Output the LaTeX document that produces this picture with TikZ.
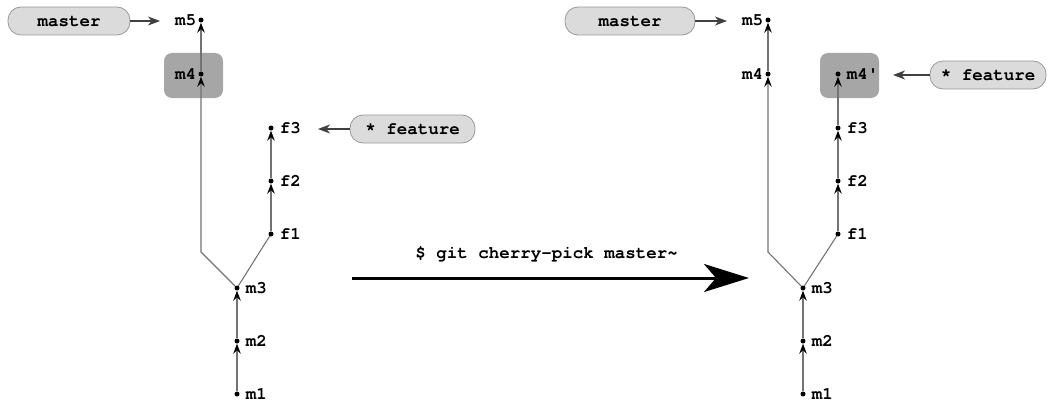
\documentclass[tikz,border=0pt]{standalone}
\usepackage{fontspec}
\setmonofont{TeX Gyre Cursor}
\usetikzlibrary{arrows.meta}
\begin{document}
\begin{tikzpicture}[x=1pt,y=-1pt,
 commit/.style={circle,fill=black,inner sep=0pt,minimum size=5pt},
 lbl/.style={font=\ttfamily\bfseries\fontsize{17.5}{17.5}\selectfont, inner sep=1pt, text=black},
 ll/.style={lbl, label distance=5pt},
 edge/.style={draw=black!55, line width=1.1pt, -{Stealth[length=10pt,width=7.5pt,inset=3.5pt,black]}},
 plainedge/.style={draw=black!55, line width=1.1pt},
 pill/.style={rounded corners=13pt, fill=black!14, draw=black!40, line width=0.8pt, minimum height=28pt, font=\ttfamily\bfseries\fontsize{17.5}{17.5}\selectfont, text=black},
 hl/.style={rounded corners=8pt, fill=black!35, draw=none},
 ptr/.style={draw=black!75, line width=1.1pt, -{Stealth[length=12pt,width=9pt,inset=3.5pt]}},
 bigarrow/.style={draw=black, line width=3pt, -{Stealth[length=45pt,width=28pt,inset=12pt]}}
]
\useasboundingbox (0,0) rectangle (1049,404);
% highlight boxes
\node[hl, minimum width=59pt, minimum height=45pt] (hlL) at (193.5,75.5) {};
\node[hl, minimum width=59pt, minimum height=45pt] (hlR) at (849.5,75.5) {};

% ---------- left graph
\node[commit, label={[ll]right:m1}] (lm1) at (237,394) {};
\node[commit, label={[ll]right:m2}] (lm2) at (237,341) {};
\node[commit, label={[ll]right:m3}] (lm3) at (237,288) {};
\node[commit, label={[ll]right:f1}] (lf1) at (271,234) {};
\node[commit, label={[ll]right:f2}] (lf2) at (271,181) {};
\node[commit, label={[ll]right:f3}] (lf3) at (271,128) {};
\node[commit, label={[lbl,label distance=1pt]left:m4}] (lm4) at (201,74) {};
\node[commit, label={[lbl,label distance=1pt]left:m5}] (lm5) at (201,20) {};
\coordinate (lbend) at (201,252);
\draw[edge] (lm1) -- (lm2);
\draw[edge] (lm2) -- (lm3);
\draw[plainedge] (lm3) -- (lf1);
\draw[edge] (lf1) -- (lf2);
\draw[edge] (lf2) -- (lf3);
\draw[edge] (lm3) -- (lbend) -- (lm4);
\draw[edge] (lm4) -- (lm5);

\node[pill, minimum width=122pt] (lmaster) at (69,21) {master};
\node[pill, minimum width=125pt] (lfeature) at (412.5,129) {* feature};
\coordinate (lmt) at (160,21);
\coordinate (lft) at (318,129);
\draw[ptr] (lmaster) -- (lmt);
\draw[ptr] (lfeature) -- (lft);

% ---------- command arrow
\coordinate (ca) at (352,278);
\coordinate (cb) at (749,278);
\draw[bigarrow] (ca) -- (cb);
\node[lbl] (cmd) at (546.5,254) {\$ git cherry-pick master\textasciitilde};

% ---------- right graph
\node[commit, label={[ll]right:m1}] (rm1) at (803,394) {};
\node[commit, label={[ll]right:m2}] (rm2) at (803,341) {};
\node[commit, label={[ll]right:m3}] (rm3) at (803,288) {};
\node[commit, label={[ll]right:f1}] (rf1) at (838,234) {};
\node[commit, label={[ll]right:f2}] (rf2) at (838,181) {};
\node[commit, label={[ll]right:f3}] (rf3) at (838,128) {};
\node[commit, label={[ll]right:m4'}] (rm4p) at (838,74) {};
\node[commit, label={[lbl,label distance=1pt]left:m4}] (rm4) at (768,74) {};
\node[commit, label={[lbl,label distance=1pt]left:m5}] (rm5) at (768,20) {};
\coordinate (rbend) at (768,252);
\draw[edge] (rm1) -- (rm2);
\draw[edge] (rm2) -- (rm3);
\draw[plainedge] (rm3) -- (rf1);
\draw[edge] (rf1) -- (rf2);
\draw[edge] (rf2) -- (rf3);
\draw[edge] (rf3) -- (rm4p);
\draw[edge] (rm3) -- (rbend) -- (rm4);
\draw[edge] (rm4) -- (rm5);

\node[pill, minimum width=130pt] (rmaster) at (630,21) {master};
\node[pill, minimum width=116pt] (rfeature) at (988,75) {* feature};
\coordinate (rmt) at (727,21);
\coordinate (rft) at (893,75);
\draw[ptr] (rmaster) -- (rmt);
\draw[ptr] (rfeature) -- (rft);
\end{tikzpicture}
\end{document}
